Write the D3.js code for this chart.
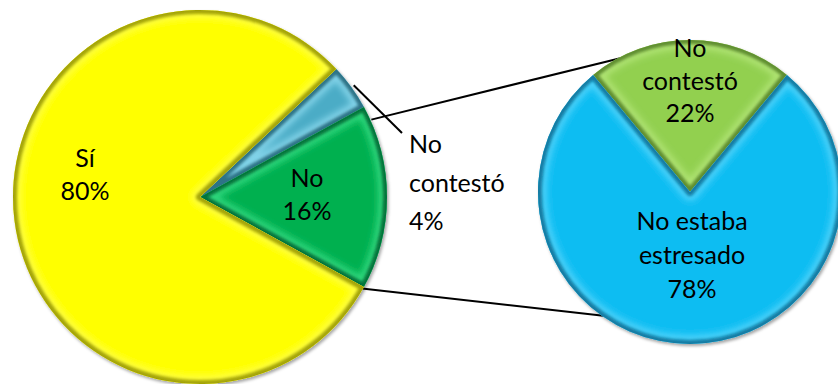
<!DOCTYPE html>
<html><head><meta charset="utf-8">
<script src="https://cdn.jsdelivr.net/npm/d3@7"></script>
<style>
body{margin:0;background:#fff}
svg{display:block}
text{font-family:Lato,"Noto Sans",sans-serif;font-size:25px;fill:#000}
</style>
</head><body>
<svg id="chart" width="838" height="384"></svg>
<script>
// Main pie: answers
const mainCategories = ["No contestó", "No", "Sí"];
const mainValues = [4, 16, 80];
const mainLabelLines = [["No", "contestó"], ["No"], ["Sí"]];
const mainColors = ["#4bacc6", "#00b050", "#ffff00"];
const mainDark = ["#25687c", "#006a33", "#9a9a00"];
const mainLight = ["#a5ecff", "#4cf09a", "#ffff66"];

// Secondary pie: breakdown of "No"
const subCategories = ["No contestó", "No estaba estresado"];
const subValues = [22, 78];
const subLabelLines = [["No", "contestó"], ["No estaba", "estresado"]];
const subColors = ["#92d050", "#0fbdf2"];
const subDark = ["#56852a", "#08729a"];
const subLight = ["#c3f08a", "#6fe0ff"];

const svg = d3.select("#chart");
const defs = svg.append("defs");
defs.append("filter").attr("id", "soft").attr("x", "-20%").attr("y", "-20%").attr("width", "140%").attr("height", "140%")
  .append("feGaussianBlur").attr("stdDeviation", 3);
defs.append("filter").attr("id", "softer").attr("x", "-20%").attr("y", "-20%").attr("width", "140%").attr("height", "140%")
  .append("feGaussianBlur").attr("stdDeviation", 1.5);
defs.append("filter").attr("id", "shadow").attr("x", "-10%").attr("y", "-10%").attr("width", "120%").attr("height", "120%")
  .append("feDropShadow").attr("dx", 1.5).attr("dy", 2).attr("stdDeviation", 1.8)
  .attr("flood-color", "#000").attr("flood-opacity", 0.35);

const deg = Math.PI / 180;
const mainTotal = d3.sum(mainValues);
const subTotal = d3.sum(subValues);

// Main pie geometry: the "No" slice sits centred on the horizontal, facing the secondary pie
const L = {cx: 200, cy: 197, r: 187};
const mainStart = Math.PI / 2 - (mainValues[1] / mainTotal) * Math.PI - (mainValues[0] / mainTotal) * 2 * Math.PI;
const mainPie = d3.pie().sort(null).value(d => d).startAngle(mainStart).endAngle(mainStart + 2 * Math.PI);
const mainArcs = mainPie(mainValues);

// Secondary pie geometry: "No contestó" centred at the top
const R = {cx: 690, cy: 192, r: 152};
const subStart = -(subValues[0] / subTotal) * Math.PI;
const subPie = d3.pie().sort(null).value(d => d).startAngle(subStart).endAngle(subStart + 2 * Math.PI);
const subArcs = subPie(subValues);

function polar(c, a, rr) { return [c.cx + rr * Math.sin(a), c.cy - rr * Math.cos(a)]; }

// Connector lines between the pies
const conn = svg.append("g").attr("stroke", "#000").attr("stroke-width", 2).attr("fill", "none");
const g1 = mainArcs[1];
const p1a = polar(L, g1.startAngle + 4.5 * deg, L.r + 1);
const p1b = polar(R, -26 * deg, R.r - 2);
const p2a = polar(L, g1.endAngle + 1.5 * deg, L.r - 7);
const p2b = polar(R, 215 * deg, R.r - 1);
conn.append("line").attr("x1", p1a[0]).attr("y1", p1a[1]).attr("x2", p1b[0]).attr("y2", p1b[1]);
conn.append("line").attr("x1", p2a[0]).attr("y1", p2a[1]).attr("x2", p2b[0]).attr("y2", p2b[1]);

// Leader line for the small slice label
const b0 = mainArcs[0];
const bm = (b0.startAngle + b0.endAngle) / 2;
const lp = polar(L, bm, L.r + 3);
conn.append("line").attr("x1", lp[0]).attr("y1", lp[1]).attr("x2", L.cx + 202).attr("y2", L.cy - 64);

// Beveled slices
function drawPie(c, arcs, colors, dark, light, id) {
  const arc = d3.arc().innerRadius(0).outerRadius(c.r);
  const g = svg.append("g").attr("transform", `translate(${c.cx},${c.cy})`).attr("filter", "url(#shadow)");
  arcs.forEach((a, i) => {
    const d = arc(a);
    const cid = `${id}${i}`;
    defs.append("clipPath").attr("id", cid).append("path").attr("d", d);
    const s = g.append("g");
    s.append("path").attr("d", d).attr("fill", colors[i]);
    const inner = s.append("g").attr("clip-path", `url(#${cid})`);
    inner.append("path").attr("d", d).attr("fill", "none").attr("stroke", light[i])
      .attr("stroke-width", 18).attr("stroke-opacity", 0.6).attr("filter", "url(#soft)")
      .attr("stroke-linejoin", "round");
    inner.append("path").attr("d", d).attr("fill", "none").attr("stroke", dark[i])
      .attr("stroke-width", 8).attr("stroke-opacity", 0.9).attr("filter", "url(#softer)")
      .attr("stroke-linejoin", "round");
  });
}
drawPie(L, mainArcs, mainColors, mainDark, mainLight, "mc");
drawPie(R, subArcs, subColors, subDark, subLight, "sc");

// Labels
function label(x, y, lines, anchor, step) {
  const t = svg.append("text").attr("text-anchor", anchor);
  lines.forEach((s, i) => t.append("tspan").attr("x", x).attr("y", y + i * step).text(s));
}
const pct = v => v + "%";
label(L.cx - 115, L.cy - 30, [...mainLabelLines[2], pct(mainValues[2])], "middle", 33);
label(L.cx + 107, L.cy - 10, [...mainLabelLines[1], pct(mainValues[1])], "middle", 33);
label(L.cx + 209, L.cy - 44, [...mainLabelLines[0], pct(mainValues[0])], "start", 38.5);
label(R.cx, R.cy - 135, [...subLabelLines[0], pct(subValues[0])], "middle", 32.5);
label(R.cx + 2, R.cy + 38, [...subLabelLines[1], pct(subValues[1])], "middle", 34);
</script>
</body></html>
